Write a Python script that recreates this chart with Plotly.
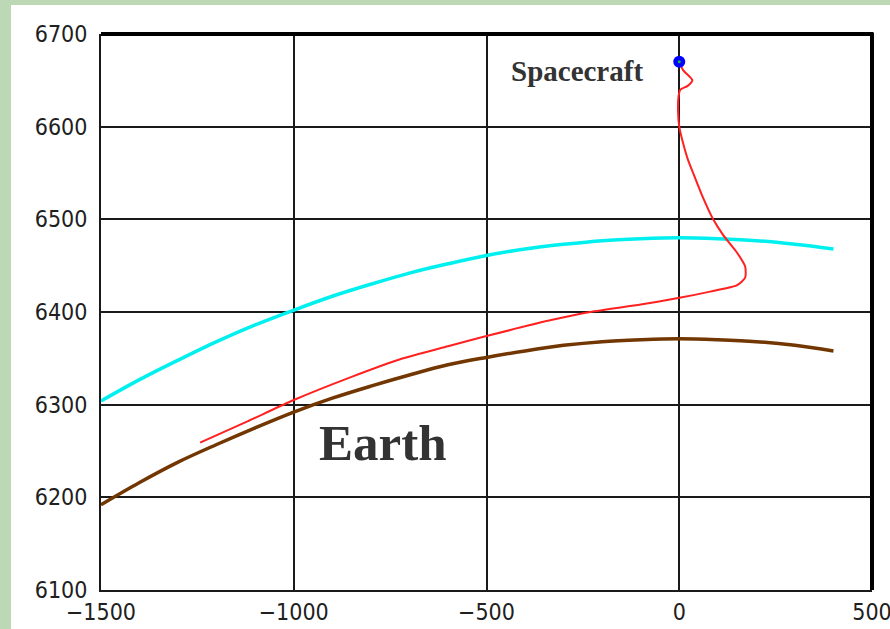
import plotly.graph_objects as go

# Horizontal distance (km) and radial distance (km) along each curve
earth_x = [-1500, -1400, -1300, -1200, -1100, -1000, -900, -800, -700, -600,
           -500, -400, -300, -200, -100, 0, 100, 200, 300, 400]
earth_y = [6192, 6216, 6238, 6257, 6275, 6292, 6307, 6320, 6332, 6343,
           6351, 6358, 6364, 6368, 6370, 6371, 6370, 6368, 6364, 6358]

atmos_x = earth_x
atmos_y = [6304, 6327, 6348, 6368, 6386, 6402, 6417, 6430, 6442, 6452,
           6461, 6468, 6473, 6477, 6479, 6480, 6479, 6477, 6473, 6468]

traj_x = [0, 10, 34, 22, 3, -2, -3, 0, 10, 22, 36, 60, 88, 114, 150, 171,
          171, 150, 80, -3, -100, -231, -335, -500, -600, -724, -850, -1000,
          -1120, -1243]
traj_y = [6670, 6661, 6650, 6644, 6640, 6632, 6615, 6600, 6582, 6565, 6550,
          6525, 6500, 6483, 6464, 6449, 6437, 6429, 6422, 6415, 6408, 6400,
          6391, 6374, 6363, 6349, 6330, 6305, 6282, 6259]

craft_x = [0]
craft_y = [6670]

x_ticks = [-1500, -1000, -500, 0, 500]
y_ticks = [6100, 6200, 6300, 6400, 6500, 6600, 6700]

fig = go.Figure()

fig.add_trace(go.Scatter(x=atmos_x, y=atmos_y, mode="lines",
                         line=dict(color="#00f0f0", width=3.5, shape="spline")))
fig.add_trace(go.Scatter(x=earth_x, y=earth_y, mode="lines",
                         line=dict(color="#723600", width=3.5, shape="spline")))
fig.add_trace(go.Scatter(x=traj_x, y=traj_y, mode="lines",
                         line=dict(color="#ff2020", width=2, shape="spline",
                                   smoothing=0.6)))
fig.add_trace(go.Scatter(x=craft_x, y=craft_y, mode="markers",
                         marker=dict(color="#0000ff", size=12,
                                     line=dict(width=0))))
fig.add_trace(go.Scatter(x=craft_x, y=craft_y, mode="markers",
                         marker=dict(color="#10c040", size=3,
                                     line=dict(width=0))))

tick_font = dict(family="Liberation Sans Narrow, DejaVu Sans Condensed, sans-serif",
                 size=23, color="#202020")

fig.update_xaxes(range=[-1500, 500], tickvals=x_ticks,
                 ticktext=[str(v).replace("-", "\u2212") for v in x_ticks],
                 showgrid=True, gridcolor="#1a1a1a", gridwidth=2,
                 zeroline=False, showline=True, linecolor="#1a1a1a",
                 linewidth=2, ticks="", tickfont=tick_font, ticklabelstandoff=0,
                 automargin=False, ticklabeloverflow="allow")
fig.update_yaxes(range=[6100, 6700], tickvals=y_ticks,
                 showgrid=True, gridcolor="#1a1a1a", gridwidth=2,
                 zeroline=False, showline=True, linecolor="#1a1a1a",
                 linewidth=2, ticks="", tickfont=tick_font, ticklabelstandoff=7,
                 automargin=False, ticklabeloverflow="allow")

# White panel behind the chart, green surround
fig.add_shape(type="rect", xref="paper", yref="paper",
              x0=-0.1167, x1=1.2, y0=-0.2, y1=1.0522,
              fillcolor="white", line=dict(width=0), layer="below")
# Heavier top and right frame edges
fig.add_shape(type="line", xref="paper", yref="paper", x0=0, x1=1.002,
              y0=1, y1=1, line=dict(color="black", width=4))
fig.add_shape(type="line", xref="paper", yref="paper", x0=1, x1=1,
              y0=0, y1=1.002, line=dict(color="black", width=4))

fig.add_annotation(x=-265, y=6660, text="<b>Spacecraft</b>", showarrow=False,
                   font=dict(family="Liberation Serif, Times New Roman, serif",
                             size=29, color="#333333"))
fig.add_annotation(x=-768, y=6259, text="<b>Earth</b>", showarrow=False,
                   bgcolor="white",
                   font=dict(family="Liberation Serif, Times New Roman, serif",
                             size=51, color="#333333"))

fig.update_layout(width=890, height=629, showlegend=False,
                  margin=dict(l=101, r=18, t=34, b=39),
                  paper_bgcolor="#bcd8b4", plot_bgcolor="white")

fig.write_html("out.html")
